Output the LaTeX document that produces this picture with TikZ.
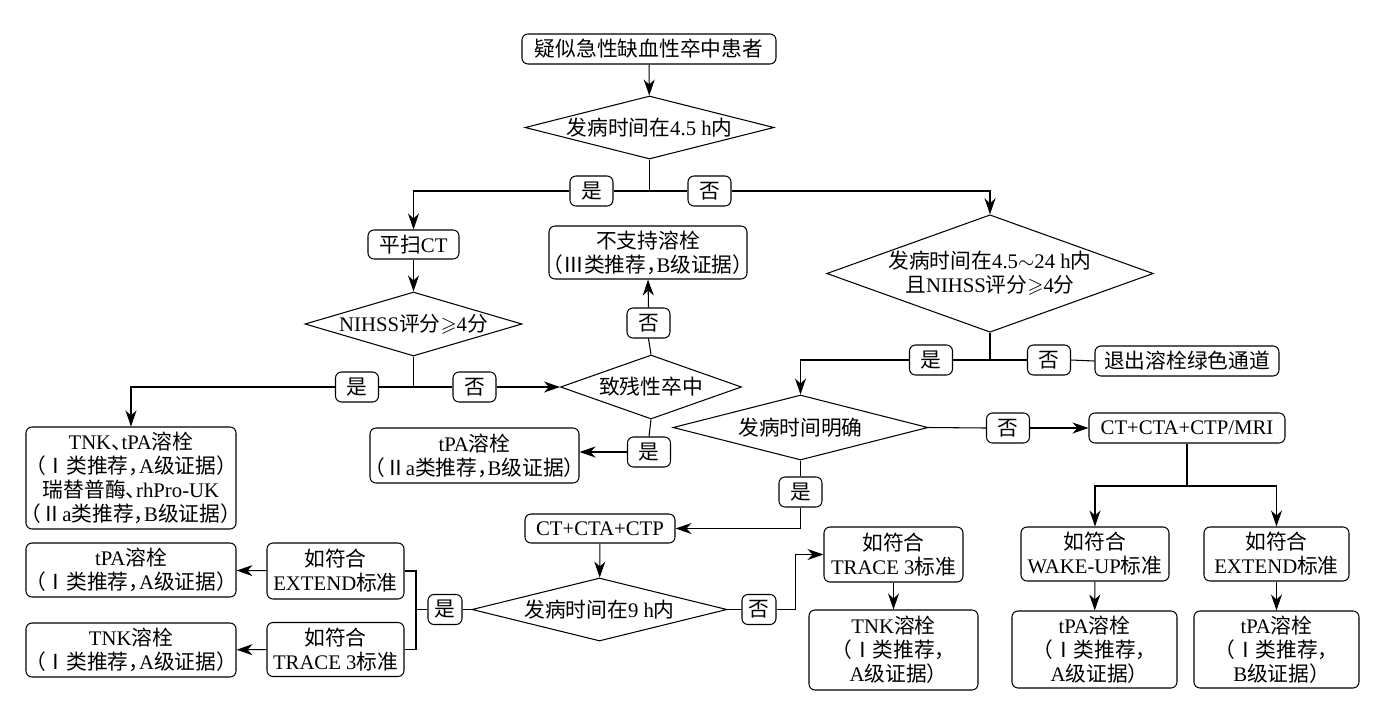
\documentclass[tikz,border=0pt]{standalone}
\usepackage{fontspec}
\usepackage{amssymb}
\setmainfont{Liberation Serif}
\newfontfamily\cjk[RawFeature={+halt}]{Noto Sans CJK SC}
\usetikzlibrary{arrows.meta, positioning, calc, shapes.geometric}
\newcommand{\zh}[1]{{\cjk #1}}

\begin{document}
\begin{tikzpicture}[
box/.style={draw, rounded corners=0.12cm, align=center, inner sep=1pt, font=\fontsize{11.8pt}{13.7pt}\selectfont},
dia/.style={draw, diamond, inner sep=0pt, align=center, font=\fontsize{11.8pt}{13.7pt}\selectfont},
lab/.style={draw, rounded corners=0.12cm, fill=white, minimum width=0.86cm, minimum height=0.6cm, inner sep=0pt, font=\fontsize{11.8pt}{13.7pt}\selectfont},
arrow/.style={-{Stealth[length=3.2mm, width=2.2mm, inset=1mm]}},
line width=0.6pt
]
\useasboundingbox (0,0) rectangle (27.64,-14.16);

% top: onset within 4.5 h
\node[box, minimum width=5.08cm, minimum height=0.60cm] (start) at (12.98,-0.98) {\zh{疑似急性缺血性卒中患者}};
\node[dia, aspect=3.95, minimum width=4.98cm, minimum height=1.26cm] (onset) at (12.99,-2.55) {\zh{发病时间在}4.5 h\zh{内}};
\node[lab] (yes1) at (11.83,-3.82) {\zh{是}};
\node[lab] (no1) at (14.19,-3.82) {\zh{否}};

% left branch
\node[box, minimum width=1.82cm, minimum height=0.58cm] (ct) at (8.27,-4.89) {\zh{平扫}CT};
\node[dia, aspect=3.4, minimum width=4.34cm, minimum height=1.28cm] (nihss) at (8.27,-6.48) {NIHSS\zh{评分}$\geqslant$4\zh{分}};
\node[lab] (yes2) at (7.14,-7.74) {\zh{是}};
\node[lab] (no2) at (9.49,-7.74) {\zh{否}};
\node[box, minimum width=4.20cm, minimum height=2.04cm] (tnkA) at (2.62,-9.56) {TNK\zh{、}tPA\zh{溶栓}\\\zh{（Ⅰ类推荐，}A\zh{级证据）}\\\zh{瑞替普酶、}rhPro-UK\\\zh{（Ⅱ}a\zh{类推荐，}B\zh{级证据）}};
\node[dia, aspect=2.83, minimum width=3.62cm, minimum height=1.28cm] (disab) at (13.02,-7.74) {\zh{致残性卒中}};
\node[lab] (no3) at (12.97,-6.46) {\zh{否}};
\node[box, minimum width=3.96cm, minimum height=1.06cm] (nosupp) at (12.96,-5.05) {\zh{不支持溶栓}\\\zh{（Ⅲ类推荐，}B\zh{级证据）}};
\node[lab] (yes3) at (12.98,-9.04) {\zh{是}};
\node[box, minimum width=4.18cm, minimum height=1.10cm] (tpaIIa) at (9.49,-9.11) {tPA\zh{溶栓}\\\zh{（Ⅱ}a\zh{类推荐，}B\zh{级证据）}};

% right branch: 4.5-24 h
\node[dia, aspect=2.78, minimum width=6.28cm, minimum height=2.26cm] (late) at (19.80,-5.47) {\zh{发病时间在}4.5$\sim$24 h\zh{内}\\\zh{且}NIHSS\zh{评分}$\geqslant$4\zh{分}};
\node[lab] (yes4) at (18.62,-7.20) {\zh{是}};
\node[lab] (no4) at (20.98,-7.20) {\zh{否}};
\node[box, minimum width=3.68cm, minimum height=0.60cm] (exit) at (23.74,-7.22) {\zh{退出溶栓绿色通道}};
\node[dia, aspect=3.92, minimum width=5.10cm, minimum height=1.30cm] (clear) at (16.01,-8.55) {\zh{发病时间明确}};
\node[lab] (no5) at (20.16,-8.56) {\zh{否}};
\node[box, minimum width=3.92cm, minimum height=0.60cm] (mri) at (23.74,-8.56) {CT+CTA+CTP/MRI};
\coordinate (split) at (23.74,-9.72);
\node[box, minimum width=2.96cm, minimum height=1.08cm] (wake) at (21.90,-11.08) {\zh{如符合}\\WAKE-UP\zh{标准}};
\node[box, minimum width=2.90cm, minimum height=1.08cm] (extR) at (25.53,-11.08) {\zh{如符合}\\EXTEND\zh{标准}};
\node[box, minimum width=3.30cm, minimum height=1.54cm] (tpaA) at (21.89,-12.99) {tPA\zh{溶栓}\\\zh{（Ⅰ类推荐，}\\A\zh{级证据）}};
\node[box, minimum width=3.30cm, minimum height=1.54cm] (tpaB) at (25.53,-12.99) {tPA\zh{溶栓}\\\zh{（Ⅰ类推荐，}\\B\zh{级证据）}};

% known onset: 9 h
\node[lab] (yes6) at (16.01,-9.84) {\zh{是}};
\node[box, minimum width=3.00cm, minimum height=0.58cm] (ctp) at (12.00,-10.57) {CT+CTA+CTP};
\node[dia, aspect=4.05, minimum width=5.10cm, minimum height=1.26cm] (nine) at (11.99,-12.19) {\zh{发病时间在}9 h\zh{内}};
\node[lab, minimum width=0.68cm] (no6) at (15.18,-12.19) {\zh{否}};
\node[box, minimum width=2.78cm, minimum height=1.10cm] (traceR) at (17.87,-11.09) {\zh{如符合}\\TRACE 3\zh{标准}};
\node[box, minimum width=3.38cm, minimum height=1.60cm] (tnkC) at (17.87,-13.00) {TNK\zh{溶栓}\\\zh{（Ⅰ类推荐，}\\A\zh{级证据）}};
\node[lab, minimum width=0.68cm] (yes7) at (8.90,-12.19) {\zh{是}};
\coordinate (brk) at (8.32,-12.19);
\node[box, minimum width=2.74cm, minimum height=1.12cm] (extL) at (6.71,-11.42) {\zh{如符合}\\EXTEND\zh{标准}};
\node[box, minimum width=2.74cm, minimum height=1.08cm] (traceL) at (6.71,-12.99) {\zh{如符合}\\TRACE 3\zh{标准}};
\node[box, minimum width=4.20cm, minimum height=1.08cm] (tpaI) at (2.62,-11.40) {tPA\zh{溶栓}\\\zh{（Ⅰ类推荐，}A\zh{级证据）}};
\node[box, minimum width=4.20cm, minimum height=1.08cm] (tnkB) at (2.62,-13.00) {TNK\zh{溶栓}\\\zh{（Ⅰ类推荐，}A\zh{级证据）}};

% connectors
\draw[arrow] (start) -- (onset);
\draw (onset.south) |- (yes1.east);
\draw (onset.south) |- (no1.west);
\draw[arrow] (yes1.west) -| (ct.north);
\draw[arrow] (no1.east) -| (late.north);
\draw[arrow] (ct) -- (nihss);
\draw (nihss.south) |- (yes2.east);
\draw (nihss.south) |- (no2.west);
\draw[arrow] (yes2.west) -| (tnkA.north);
\draw[arrow] (no2.east) -- (disab.west);
\draw (disab.north) -- (no3.south);
\draw[arrow] (no3.north) -- (nosupp.south);
\draw (disab.south) -- (yes3.north);
\draw[arrow] (yes3.west) -- (yes3 -| tpaIIa.east);
\draw (late.south) |- (yes4.east);
\draw (late.south) |- (no4.west);
\draw[arrow] (yes4.west) -| (clear.north);
\draw (no4.east) -- (exit.west);
\draw (clear.east) -- (no5.west);
\draw[arrow] (no5.east) -- (mri.west);
\draw (mri.south) -- (split);
\draw[arrow] (split) -| (wake.north);
\draw[arrow] (split) -| (extR.north);
\draw[arrow] (wake) -- (tpaA);
\draw[arrow] (extR) -- (tpaB);
\draw (clear.south) -- (yes6.north);
\draw[arrow] (yes6.south) |- (ctp.east);
\draw[arrow] (ctp) -- (nine);
\draw (nine.east) -- (no6.west);
\draw[arrow] (no6.east) -- ++(0.38,0) |- (traceR.west);
\draw[arrow] (traceR) -- (tnkC);
\draw (nine.west) -- (yes7.east);
\draw (yes7.west) -- (brk);
\draw (extL.east) -| (brk) |- (traceL.east);
\draw[arrow] (extL) -- (tpaI);
\draw[arrow] (traceL) -- (tnkB);
\end{tikzpicture}
\end{document}
